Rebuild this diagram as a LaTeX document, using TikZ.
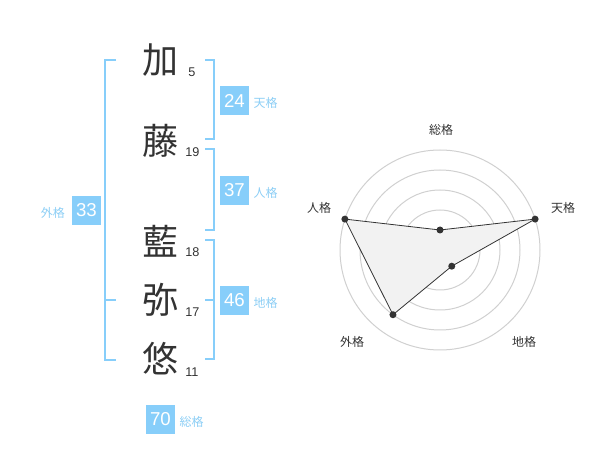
\documentclass[tikz,border=0pt]{standalone}
\usepackage{fontspec}
\setmainfont{Liberation Sans}
\newfontfamily\cjk{Noto Sans CJK JP}
\usetikzlibrary{positioning}
\definecolor{kakuBlue}{RGB}{135,206,250}
\definecolor{kakuText}{RGB}{140,206,245}
\definecolor{inkGray}{RGB}{51,51,51}
\definecolor{ringGray}{RGB}{208,208,208}
\definecolor{webFill}{RGB}{242,242,242}

\begin{document}
\begin{tikzpicture}[x=0.75pt,y=0.75pt,yscale=-1,xscale=1,
    kanji/.style={inner sep=0pt,text=inkGray,font=\cjk\fontsize{27}{27}\selectfont},
    stroke/.style={inner sep=0pt,anchor=base west,text=inkGray,font=\fontsize{9.5}{10}\selectfont},
    bracket/.style={draw=kakuBlue,line width=1.5pt},
    kakubox/.style={fill=kakuBlue,text=white,inner sep=0pt,minimum size=21.75pt,font=\fontsize{14}{14}\selectfont},
    kakulabel/.style={inner sep=0pt,text=kakuText,font=\cjk\fontsize{9}{9}\selectfont},
    ring/.style={draw=ringGray,line width=0.75pt},
    web/.style={draw=inkGray,line width=0.6pt,fill=webFill},
    axislabel/.style={inner sep=0pt,text=inkGray,font=\cjk\fontsize{9}{9}\selectfont}]
\useasboundingbox (0,0) rectangle (600,470);
% name, strokes
\node[kanji] (c1) at (160,60) {加};
\node[kanji] (c2) at (160,141) {藤};
\node[kanji] (c3) at (160,241) {藍};
\node[kanji] (c4) at (160,300) {弥};
\node[kanji] (c5) at (160,359) {悠};
\node[stroke] (s1) at (188,77) {5};
\node[stroke] (s2) at (185,157) {19};
\node[stroke] (s3) at (185,257) {18};
\node[stroke] (s4) at (185,317) {17};
\node[stroke] (s5) at (185,377) {11};
% brackets
\draw[bracket] (116,60) -- (105,60) -- (105,360) -- (116,360) (105,300) -- (116,300);
\draw[bracket] (205,60) -- (214,60) -- (214,139) -- (205,139);
\draw[bracket] (205,149) -- (214,149) -- (214,230) -- (205,230);
\draw[bracket] (205,240) -- (214,240) -- (214,359) -- (205,359) (205,300) -- (214,300);
% scores
\node[kakubox] (ten) at (234.5,100.5) {24};
\node[kakubox] (jin) at (234.5,190.5) {37};
\node[kakubox] (gai) at (86.5,210.5) {33};
\node[kakubox] (chi) at (234.5,300.5) {46};
\node[kakubox] (sou) at (160.5,419.5) {70};
\node[kakulabel,right=3pt of ten,yshift=-2pt] (tenl) {天格};
\node[kakulabel,right=3pt of jin,yshift=-2pt] (jinl) {人格};
\node[kakulabel,left=5pt of gai,yshift=-2pt] (gail) {外格};
\node[kakulabel,right=3pt of chi,yshift=-2pt] (chil) {地格};
\node[kakulabel,right=3pt of sou,yshift=-2pt] (soul) {総格};
% radar
\begin{scope}[shift={(440,250)},yscale=-1]
\foreach \r in {20,40,60,80,100}
  \draw[ring] (0,0) circle (\r);
\fill[ringGray] (0,0) circle (3.5);
\coordinate (psou) at (90:20);
\coordinate (pten) at (18:100);
\coordinate (pchi) at (-54:20);
\coordinate (pgai) at (-126:80);
\coordinate (pjin) at (162:100);
\draw[web] (psou) -- (pten) -- (pchi) -- (pgai) -- (pjin) -- cycle;
\foreach \p in {psou,pten,pchi,pgai,pjin}
  \fill[inkGray] (\p) circle (3.5);
\end{scope}
\node[axislabel] (asou) at (441,130) {総格};
\node[axislabel] (aten) at (563,208) {天格};
\node[axislabel] (ajin) at (319,208) {人格};
\node[axislabel] (agai) at (352,342) {外格};
\node[axislabel] (achi) at (524,342) {地格};
\end{tikzpicture}
\end{document}
